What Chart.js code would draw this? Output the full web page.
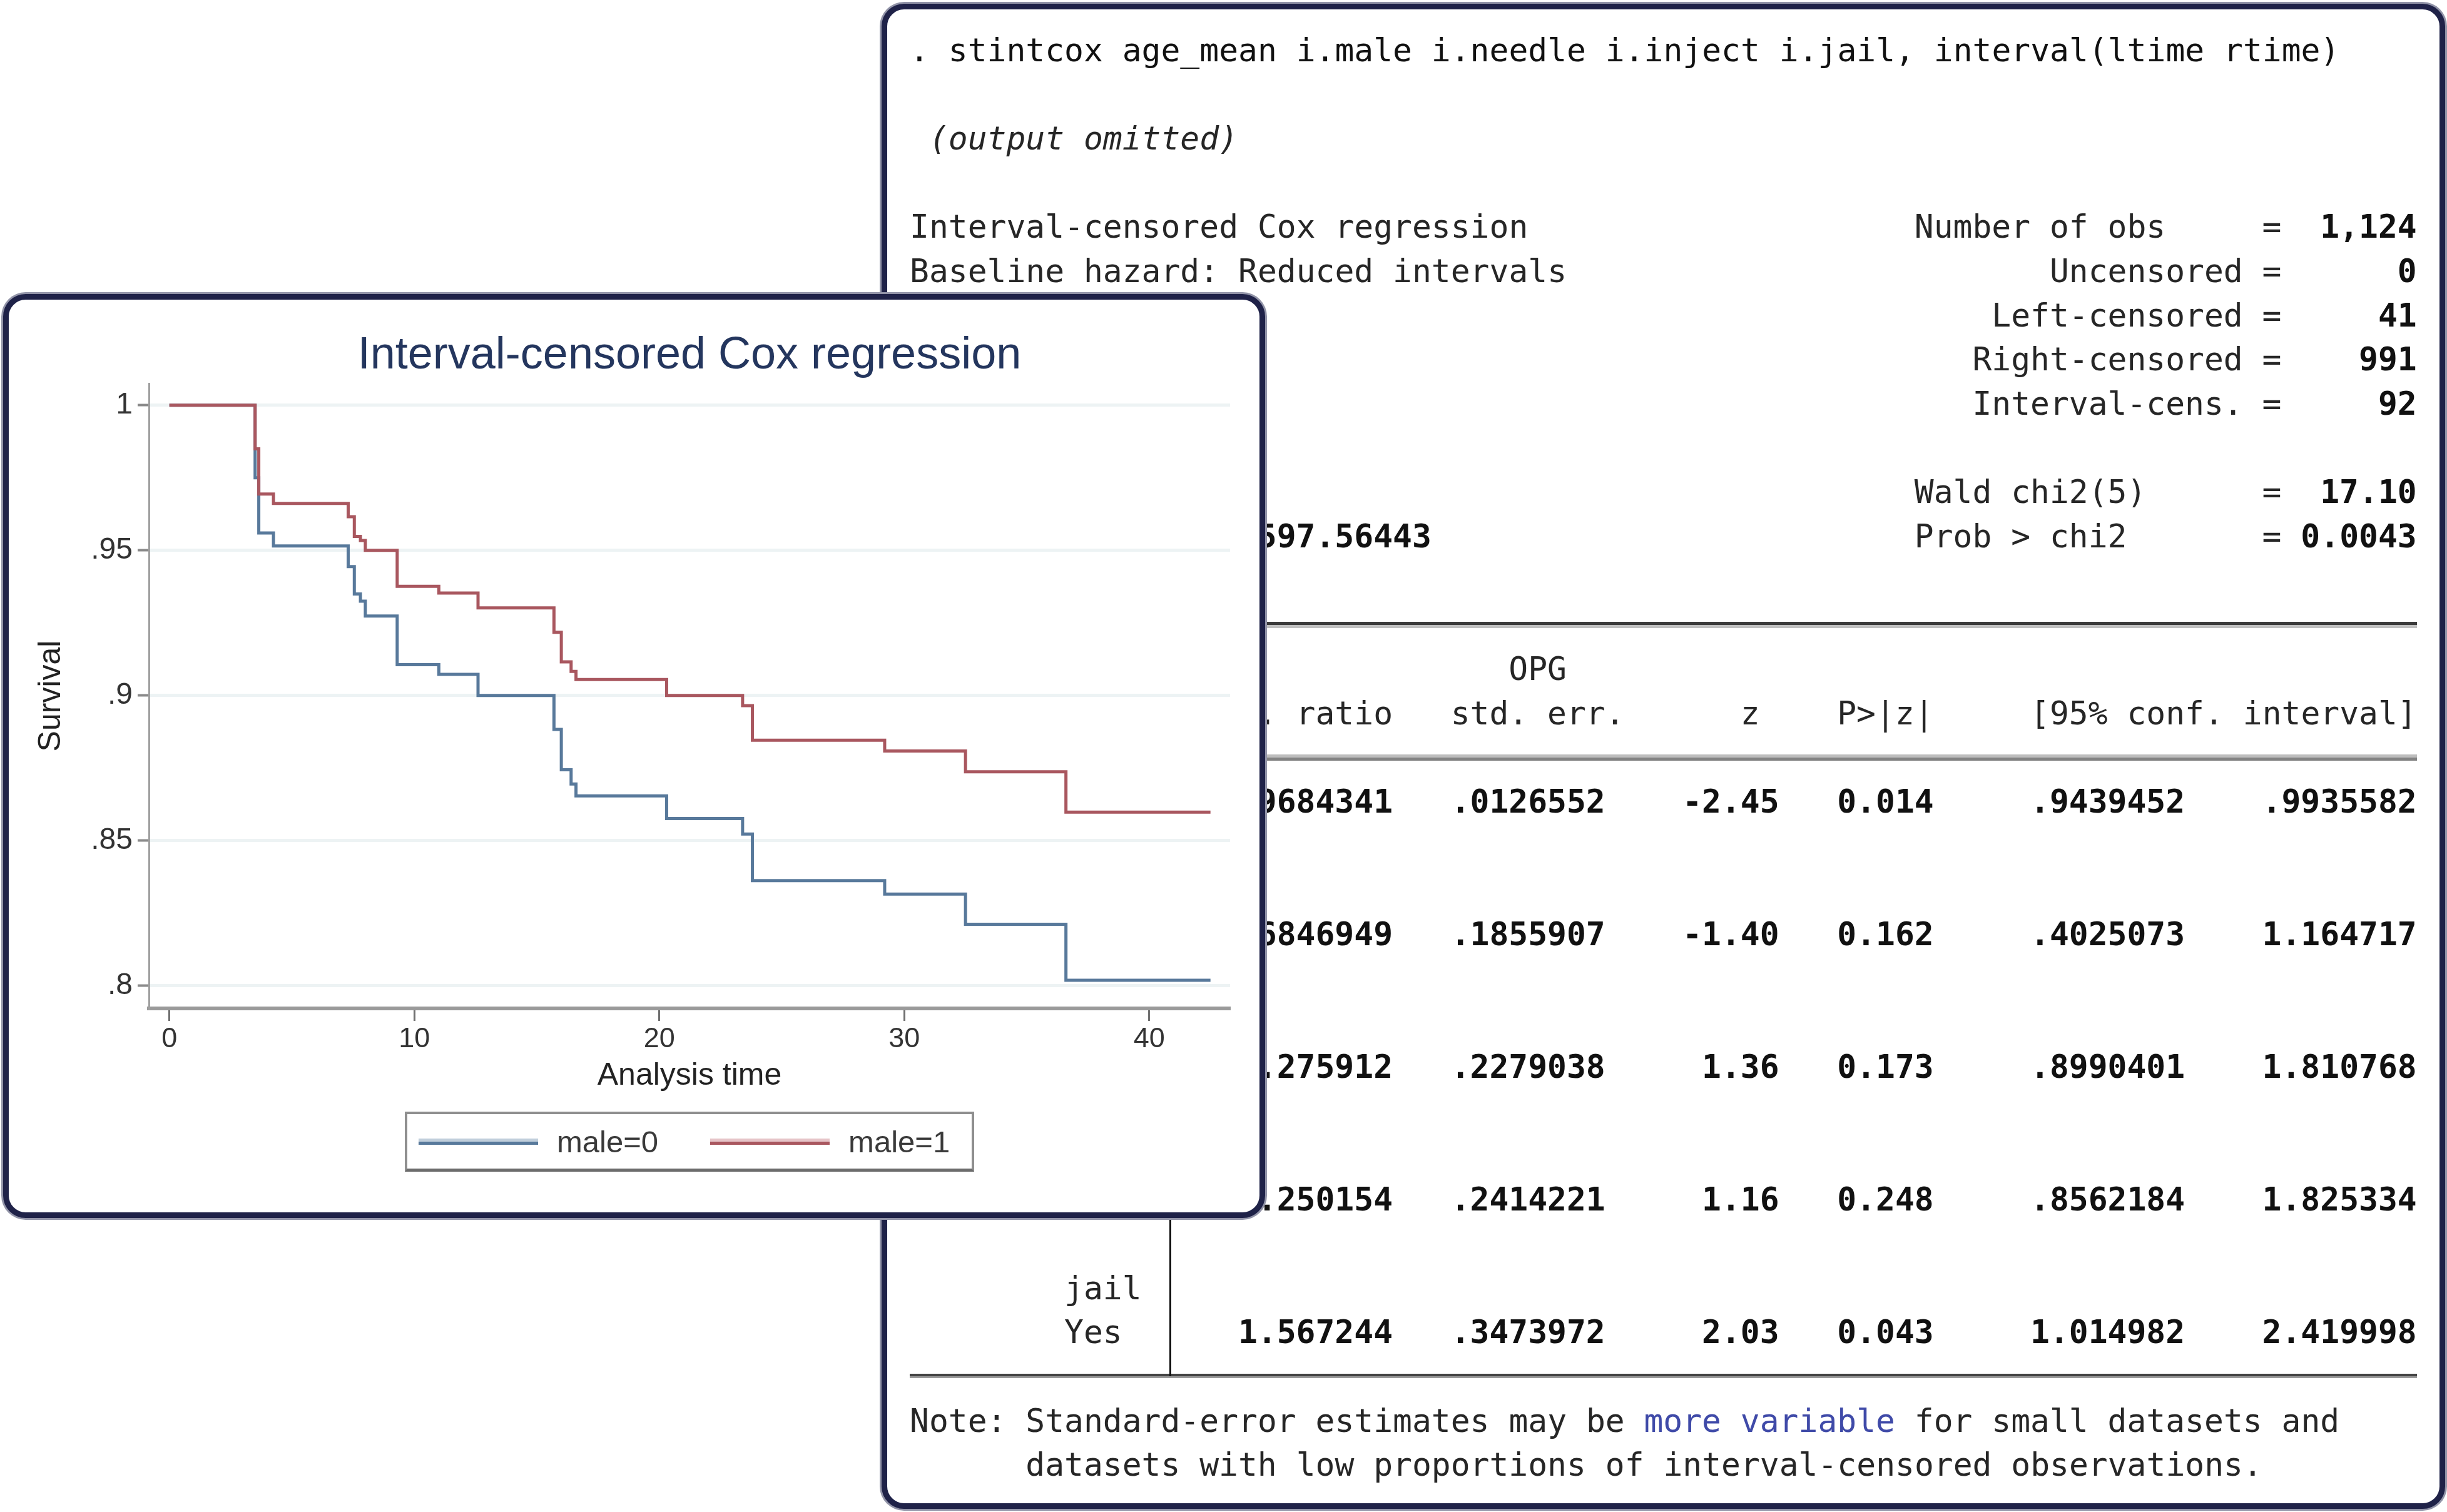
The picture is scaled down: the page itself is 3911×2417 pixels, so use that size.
<!DOCTYPE html>
<html lang="en">
<head>
<meta charset="UTF-8">
<script src="https://cdn.jsdelivr.net/npm/chart.js@4.4.1/dist/chart.umd.min.js"></script>
<title>Interval-censored Cox regression</title>
<style>
    html, body { margin: 0; padding: 0; background: #fff; }
    body { width: 3911px; height: 2417px; position: relative; overflow: hidden; }
    .panel {
        position: absolute; box-sizing: border-box; background: #fff;
        border: 9px solid #1f2248; border-radius: 36px;
        box-shadow: 0 0 0 3px #9294a8;
    }
    #outPanel { left: 1409px; top: 6px; width: 2499px; height: 2406px; z-index: 1; }
    #chartPanel { left: 5px; top: 470px; width: 2017px; height: 1477px; z-index: 3; }
    #log { position: absolute; left: 0; top: 0; z-index: 2;
        font-family: "DejaVu Sans Mono", monospace; font-size: 51.3px; color: #262626; }
    #log span { position: absolute; white-space: pre; line-height: 70.68px; }
    #log .num { font-weight: bold; color: #111; }
    #log .cmd { color: #111; }
    #log .it { font-style: italic; }
    #log .link { color: #3f4aa8; }
    .rule { position: absolute; z-index: 2; }
    #chartCanvas { position: absolute; left: 0; top: 0; }
    #legend {
        position: absolute; left: 633px; top: 1298px; width: 910px; height: 96px;
        box-sizing: border-box; border: 4px solid #8f8f8f; border-bottom: 5px solid #6c6c6c;
        display: flex; align-items: center; padding-left: 18px;
        font-family: "Liberation Sans", Arial, sans-serif; font-size: 49px; color: #3a3a3a;
    }
    #legend .swatch { display: inline-block; width: 191px; height: 10px; margin-right: 30px; }
    #legend .item { display: flex; align-items: center; margin-right: 83px; }
</style>
</head>
<body>
    <div class="panel" id="outPanel"></div>
    <div id="log"></div>
    <div class="panel" id="chartPanel">
        <canvas id="chartCanvas" width="1999" height="1459"></canvas>
        <div id="legend"></div>
    </div>
<script>
// survival curves (step points: time, survival after that time)
const stepTimes  = [0, 3.5, 3.65, 4.25, 7.3, 7.55, 7.8, 8.0, 9.3, 11.0, 12.6, 15.7, 16.0, 16.4, 16.6, 20.3, 23.4, 23.8, 29.2, 32.5, 36.6, 42.5];
const survMale0  = [1, 0.975, 0.956, 0.9515, 0.9444, 0.935, 0.9325, 0.9274, 0.9106, 0.9073, 0.900, 0.8883, 0.8744, 0.8695, 0.8654, 0.8576, 0.8523, 0.8362, 0.8316, 0.8212, 0.8019, 0.8019];
const survMale1  = [1, 0.985, 0.9694, 0.9662, 0.9616, 0.9548, 0.9534, 0.950, 0.9376, 0.9353, 0.9302, 0.9218, 0.9116, 0.9083, 0.9055, 0.900, 0.8965, 0.8846, 0.8809, 0.8737, 0.8598, 0.8598];
const seriesLabels = ['male=0', 'male=1'];
const xTickValues = [0, 10, 20, 30, 40];
const yTickValues = [0.8, 0.85, 0.9, 0.95, 1];
const yTickLabels = ['.8', '.85', '.9', '.95', '1'];

// regression table
const rowLabels = ['age_mean', 'male', 'needle', 'inject', 'jail'];
const hazRatio = ['.9684341', '.6846949', '1.275912', '1.250154', '1.567244'];
const stdErr   = ['.0126552', '.1855907', '.2279038', '.2414221', '.3473972'];
const zVals    = ['-2.45', '-1.40', '1.36', '1.16', '2.03'];
const pVals    = ['0.014', '0.162', '0.173', '0.248', '0.043'];
const ciLow    = ['.9439452', '.4025073', '.8990401', '.8562184', '1.014982'];
const ciHigh   = ['.9935582', '1.164717', '1.810768', '1.825334', '2.419998'];

const blue = '#58799b', blueLight = '#c0cedb';
const red = '#a9575f', redLight = '#e6c4c8';

// ---- results log (monospace grid) ----
const cw = 30.88, x0 = 1454, lh = 70.68, y0 = 80;
const logText = [
    [0, 0, '. stintcox age_mean i.male i.needle i.inject i.jail, interval(ltime rtime)', 'cmd'],
    [2, 1, '(output omitted)', 'it'],
    [4, 0, 'Interval-censored Cox regression', ''],
    [4, 52, 'Number of obs', ''], [4, 70, '=', ''], [4, 73, '1,124', 'num'],
    [5, 0, 'Baseline hazard: Reduced intervals', ''],
    [5, 59, 'Uncensored', ''], [5, 70, '=', ''], [5, 77, '0', 'num'],
    [6, 56, 'Left-censored', ''], [6, 70, '=', ''], [6, 76, '41', 'num'],
    [7, 55, 'Right-censored', ''], [7, 70, '=', ''], [7, 75, '991', 'num'],
    [8, 55, 'Interval-cens.', ''], [8, 70, '=', ''], [8, 76, '92', 'num'],
    [10, 52, 'Wald chi2(5)', ''], [10, 70, '=', ''], [10, 73, '17.10', 'num'],
    [11, 0, 'Log likelihood = ', ''], [11, 17, '-597.56443', 'num'],
    [11, 52, 'Prob > chi2', ''], [11, 70, '=', ''], [11, 72, '0.0043', 'num'],
    [14, 31, 'OPG', ''],
    [15, 10, '_t', ''], [15, 15, 'Haz. ratio', ''], [15, 28, 'std. err.', ''],
    [15, 43, 'z', ''], [15, 48, 'P>|z|', ''], [15, 58, '[95% conf. interval]', ''],
    [31, 0, 'Note: Standard-error estimates may be ', ''], [31, 38, 'more variable', 'link'],
    [31, 51, ' for small datasets and', ''],
    [32, 6, 'datasets with low proportions of interval-censored observations.', '']
];
const valueEnds = [25, 36, 45, 53, 66, 78];
const rowLines = [17, 20, 23, 26, 29];
rowLabels.forEach((name, i) => {
    const ln = rowLines[i];
    if (i === 0) {
        logText.push([ln, 12 - name.length, name, '']);
    } else {
        logText.push([ln - 1, 12 - name.length, name, '']);
        logText.push([ln, 8, 'Yes', '']);
    }
    [hazRatio[i], stdErr[i], zVals[i], pVals[i], ciLow[i], ciHigh[i]].forEach((v, k) => {
        logText.push([ln, valueEnds[k] - v.length, v, 'num']);
    });
});

const log = document.getElementById('log');
logText.forEach(([ln, col, txt, cls]) => {
    const s = document.createElement('span');
    s.textContent = txt;
    if (cls) s.className = cls;
    s.style.left = (x0 + col * cw) + 'px';
    s.style.top = (y0 + ln * lh - lh / 2) + 'px';
    log.appendChild(s);
});

function rule(top, h, color, left, width) {
    const d = document.createElement('div');
    d.className = 'rule';
    d.style.left = (left || x0) + 'px';
    d.style.width = (width || 78 * cw) + 'px';
    d.style.top = top + 'px';
    d.style.height = h + 'px';
    d.style.background = color;
    document.body.appendChild(d);
}
rule(994, 5, '#3c3c3c'); rule(999, 5, '#c0c0c0');
rule(1206, 5, '#bdbdbd'); rule(1211, 5, '#828282');
rule(2196, 4, '#444444'); rule(2200, 3, '#9a9a9a');
rule(999, 1201, '#111', x0 + 13.5 * cw - 1.5, 3);

// ---- chart ----
Chart.defaults.font.family = '"Liberation Sans", Arial, sans-serif';

const chart = new Chart(document.getElementById('chartCanvas'), {
    type: 'scatter',
    data: {
        datasets: [
        {
            label: seriesLabels[0],
            data: stepTimes.map((t, i) => ({x: t, y: survMale0[i]})),
            borderColor: blue, backgroundColor: blue,
            showLine: true, stepped: true, pointRadius: 0, borderWidth: 5, order: 2
        },
        {
            label: seriesLabels[1],
            data: stepTimes.map((t, i) => ({x: t, y: survMale1[i]})),
            borderColor: red, backgroundColor: red,
            showLine: true, stepped: true, pointRadius: 0, borderWidth: 5, order: 1
        }]
    },
    options: {
        responsive: false,
        animation: false,
        devicePixelRatio: 1,
        layout: {padding: {left: 0, right: 47, top: 0, bottom: 180}},
        plugins: {
            legend: {display: false},
            tooltip: {enabled: false},
            title: {
                display: true, fullSize: false,
                text: 'Interval-censored Cox regression',
                color: '#24365e',
                font: {size: 72, weight: 'normal'},
                padding: {top: 46.5, bottom: 1.1}
            }
        },
        scales: {
            x: {
                type: 'linear', min: -0.835, max: 43.3,
                afterFit: s => { s.height = 146; },
                afterBuildTicks: s => { s.ticks = xTickValues.map(v => ({value: v})); },
                grid: {drawOnChartArea: false, drawTicks: true, tickLength: 20, tickColor: '#707070', tickWidth: 3},
                border: {display: true, color: '#9a9a9a', width: 6},
                ticks: {color: '#333', font: {size: 45}, padding: 3, maxRotation: 0, autoSkip: false},
                title: {display: true, text: 'Analysis time', color: '#222', font: {size: 50}, padding: {top: 0, bottom: 8}}
            },
            y: {
                min: 0.7922, max: 1.0075,
                afterFit: s => { s.width = 224; },
                afterBuildTicks: s => { s.ticks = yTickValues.map(v => ({value: v})); },
                grid: {color: '#edf3f4', lineWidth: 5, drawTicks: true, tickLength: 18, tickColor: '#8a8a8a', tickWidth: 4},
                border: {display: true, color: '#a0a0a0', width: 3},
                ticks: {
                    color: '#333', font: {size: 48}, padding: 8, autoSkip: false,
                    callback: v => { const i = yTickValues.indexOf(v); return i >= 0 ? yTickLabels[i] : ''; }
                },
                title: {display: true, text: 'Survival', color: '#222', font: {size: 50}, padding: {top: 38, bottom: 0}}
            }
        }
    }
});

// legend box built from the datasets
const lights = [blueLight, redLight];
const legendBox = document.getElementById('legend');
chart.data.datasets.forEach((ds, i) => {
    const item = document.createElement('div');
    item.className = 'item';
    const sw = document.createElement('span');
    sw.className = 'swatch';
    sw.style.background = 'linear-gradient(' + lights[i] + ' 50%, ' + ds.borderColor + ' 50%)';
    const tx = document.createElement('span');
    tx.textContent = ds.label;
    item.appendChild(sw);
    item.appendChild(tx);
    legendBox.appendChild(item);
});
</script>
</body>
</html>
